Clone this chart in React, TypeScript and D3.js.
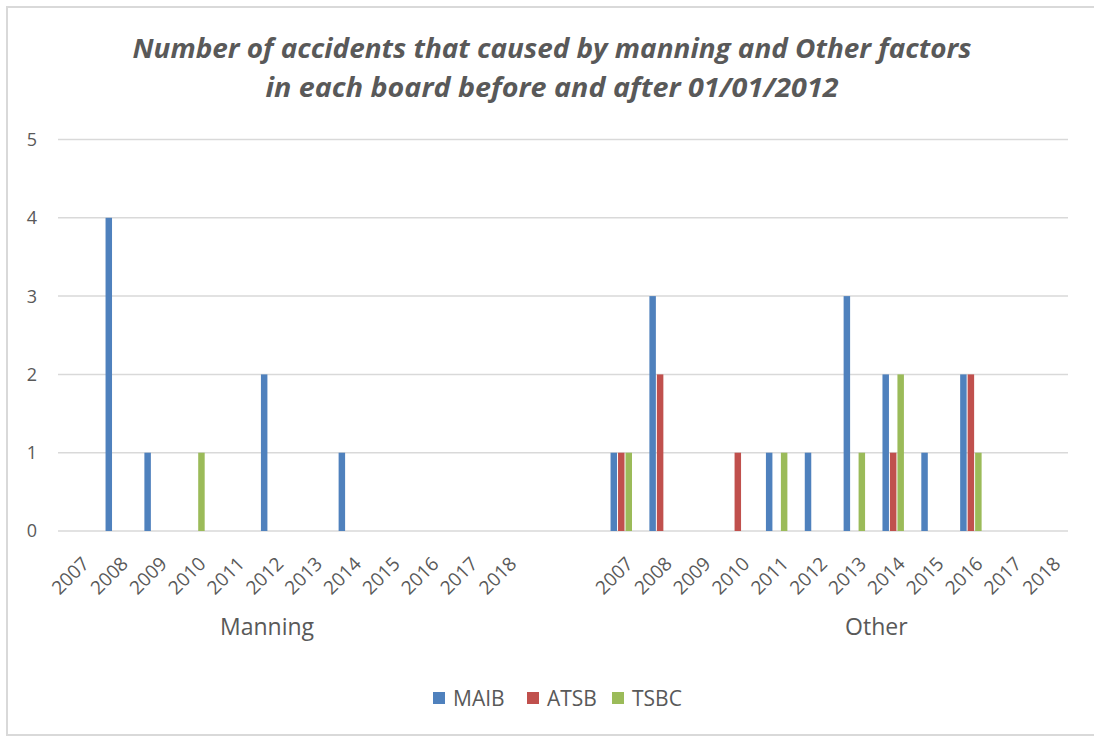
import React from "react";
import * as d3 from "d3";

const years = ["2007","2008","2009","2010","2011","2012","2013","2014","2015","2016","2017","2018"];
const groups = ["Manning", "Other"];
const seriesNames = ["MAIB", "ATSB", "TSBC"];
const seriesColors = ["#4f81bd", "#c0504d", "#9bbb59"];

const manningMAIB = [0,4,1,0,0,2,0,1,0,0,0,0];
const manningATSB = [0,0,0,0,0,0,0,0,0,0,0,0];
const manningTSBC = [0,0,0,1,0,0,0,0,0,0,0,0];
const otherMAIB = [1,3,0,0,1,1,3,2,1,2,0,0];
const otherATSB = [1,2,0,1,0,0,0,1,0,2,0,0];
const otherTSBC = [1,0,0,0,1,0,1,2,0,1,0,0];

const yTicks = [0,1,2,3,4,5];
const titleLines = [
  "Number of accidents that caused by manning and Other factors",
  "in each board before and after 01/01/2012",
];

const W = 1094, H = 736;
const plotL = 58, plotR = 1068, plotT = 139.5, plotB = 531;
const textColor = "#595959";
const gridColor = "#d9d9d9";
const font = "'Open Sans', 'Noto Sans', sans-serif";

// slot keys: Manning years, two blank slots, Other years
const slotKeys: string[] = [
  ...years.map((y) => `Manning|${y}`),
  "blank|1",
  "blank|2",
  ...years.map((y) => `Other|${y}`),
];

const groupSeries: Record<string, number[][]> = {
  Manning: [manningMAIB, manningATSB, manningTSBC],
  Other: [otherMAIB, otherATSB, otherTSBC],
};

export default function App() {
  const x = d3.scaleBand<string>().domain(slotKeys).range([plotL, plotR]).paddingInner(0).paddingOuter(0);
  const y = d3.scaleLinear().domain([0, 5]).range([plotB, plotT]);
  const bw = x.bandwidth();
  const barW = bw / (3 + 2.19);
  const inner = d3.scaleBand<string>().domain(seriesNames).range([-1.5 * barW, 1.5 * barW]);

  const bars: React.ReactNode[] = [];
  groups.forEach((g) => {
    years.forEach((yr, i) => {
      const c = (x(`${g}|${yr}`) as number) + bw / 2;
      seriesNames.forEach((s, si) => {
        const v = groupSeries[g][si][i];
        if (v > 0) {
          bars.push(
            <rect
              key={`${g}-${yr}-${s}`}
              x={c + (inner(s) as number) + 0.5}
              y={y(v)}
              width={barW - 1}
              height={y(0) - y(v)}
              fill={seriesColors[si]}
            />
          );
        }
      });
    });
  });

  const manningStart = x(`Manning|2007`) as number;
  const otherStart = x(`Other|2007`) as number;

  const legendX = [433, 527, 612];

  return (
    <svg width={W} height={H} style={{ position: "absolute", left: 0, top: 0, background: "#fff" }} fontFamily={font}>
      <rect x={0} y={0} width={W} height={H} fill="#fff" />
      <rect x={7} y={7} width={W} height={728} fill="#fff" stroke={gridColor} strokeWidth={2} />
      {titleLines.map((t, i) => (
        <text
          key={t}
          x={552}
          y={58 + i * 39}
          textAnchor="middle"
          fontSize={26}
          fontWeight="bold"
          fontStyle="italic"
          fill={textColor}
          textLength={i === 0 ? 839 : 573}
          lengthAdjust="spacingAndGlyphs"
        >
          {t}
        </text>
      ))}
      {yTicks.map((t) => (
        <g key={t}>
          <line x1={plotL} x2={plotR} y1={y(t)} y2={y(t)} stroke={gridColor} strokeWidth={1.5} />
          <text x={37} y={y(t)} dy="0.36em" textAnchor="end" fontSize={18} fill={textColor}>
            {t}
          </text>
        </g>
      ))}
      {bars}
      {slotKeys.map((k) => {
        const [g, yr] = k.split("|");
        if (g === "blank") return null;
        const c = (x(k) as number) + bw / 2;
        return (
          <text
            key={k}
            transform={`translate(${c + 13},565) rotate(-45)`}
            textAnchor="end"
            fontSize={19}
            fill={textColor}
          >
            {yr}
          </text>
        );
      })}
      <text x={manningStart + 209} y={635} textAnchor="middle" fontSize={23} fill={textColor}>
        {groups[0]}
      </text>
      <text x={otherStart + 274.5} y={635} textAnchor="middle" fontSize={23} fill={textColor}>
        {groups[1]}
      </text>
      {seriesNames.map((s, i) => (
        <g key={s}>
          <rect x={legendX[i]} y={692} width={12} height={12} fill={seriesColors[i]} />
          <text x={legendX[i] + 20} y={698} dy="0.36em" fontSize={21} fill={textColor}>
            {s}
          </text>
        </g>
      ))}
    </svg>
  );
}
